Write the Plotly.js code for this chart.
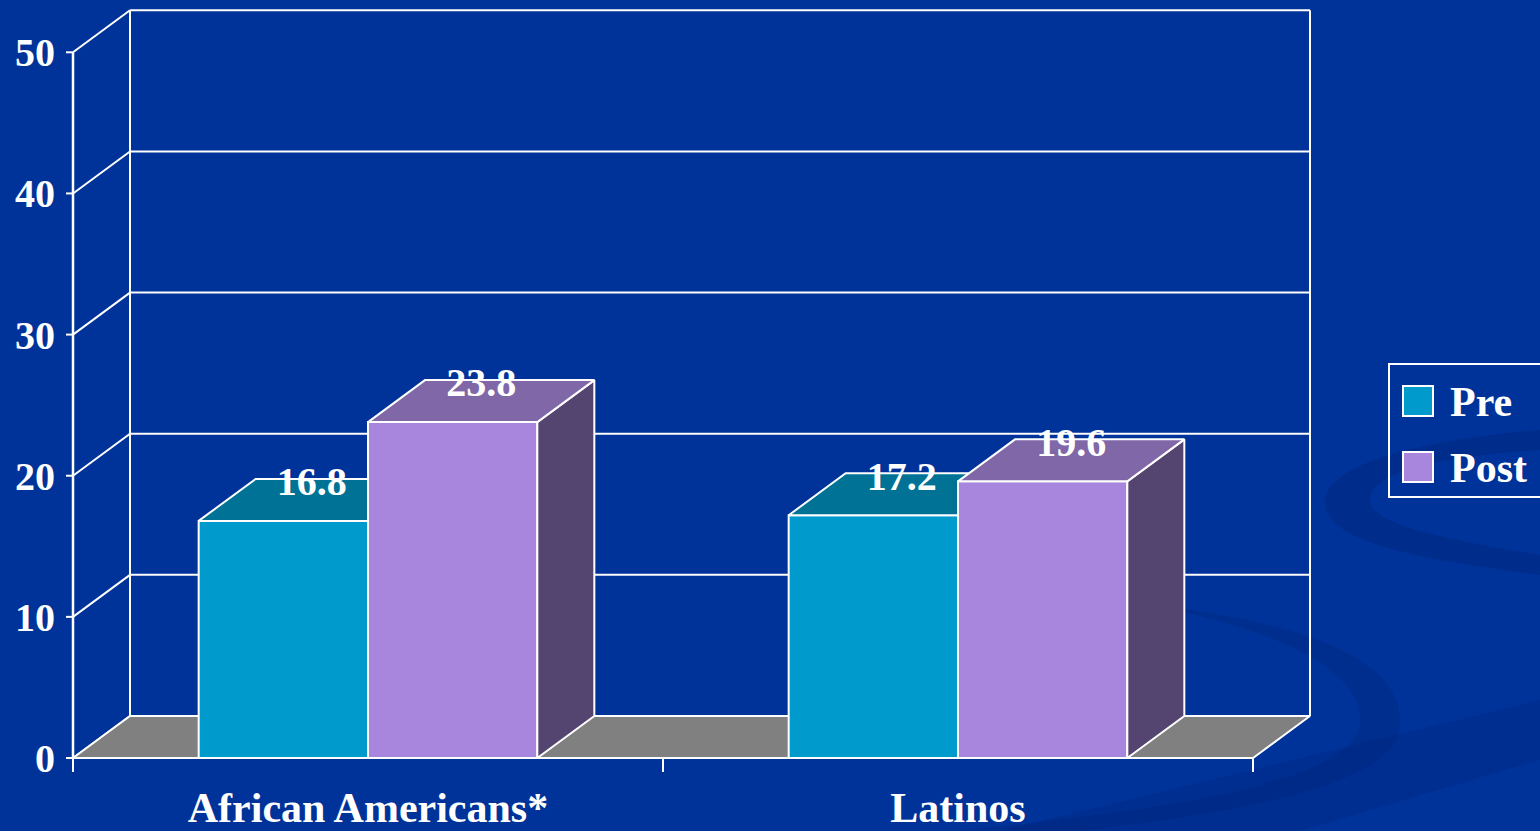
<!DOCTYPE html>
<html><head><meta charset="utf-8">
<script src="https://cdn.plot.ly/plotly-3.0.1.min.js"></script>
<style>html,body{margin:0;padding:0;background:#003399;overflow:hidden}#chart{width:1540px;height:831px}</style>
</head><body><div id="chart"></div>
<script>
// ---------- data ----------
const categories = ['African Americans*', 'Latinos'];
const seriesNames = ['Pre', 'Post'];
const preValues = [16.8, 17.2];
const postValues = [23.8, 19.6];
const yTickValues = [0, 10, 20, 30, 40, 50];
const yTickLabels = ['0', '10', '20', '30', '40', '50'];

// ---------- geometry / style ----------
const FONT = 'Liberation Serif, Times New Roman, serif';
const PLOT_L = 63, PLOT_R = 1313, PLOT_T = 7, PLOT_B = 774;
const ORIGIN_X = 73, ORIGIN_Y = 758;
const XPX = 590;                 // pixels per category slot
const YPX = (758 - 52.3) / 50;   // pixels per unit
const DX = 57 / XPX, DY = 42 / YPX; // 3D depth offset
const BAR_W = 0.287;
const nCat = categories.length;
const xRange = [(PLOT_L - ORIGIN_X) / XPX, (PLOT_R - ORIGIN_X) / XPX];
const yRange = [(ORIGIN_Y - PLOT_B) / YPX, (ORIGIN_Y - PLOT_T) / YPX];
const yMax = yTickValues[yTickValues.length - 1];
const centers = categories.map((c, i) => i + 0.5);

const COLORS = {
  pre:  {front: '#009ACD', top: '#007295', side: '#005570'},
  post: {front: '#A886DE', top: '#7F67A8', side: '#544470'},
  floor: '#808080', line: '#FFFFFF', bg: '#003399'
};

function faces(values, offset) {
  const top = {x: [], y: []}, side = {x: [], y: []};
  values.forEach((v, i) => {
    const x0 = centers[i] + offset, x1 = x0 + BAR_W;
    top.x.push(x0, x1, x1 + DX, x0 + DX, x0, null);
    top.y.push(v, v, v + DY, v + DY, v, null);
    side.x.push(x1, x1 + DX, x1 + DX, x1, x1, null);
    side.y.push(0, DY, v + DY, v, 0, null);
  });
  return {top, side};
}

function seriesTraces(values, offset, col, ax, name) {
  const f = faces(values, offset);
  const xa = 'x' + ax, ya = 'y' + ax;
  return [
    {type: 'bar', x: centers, y: values, width: BAR_W, offset: offset, name: name,
     marker: {color: col.front, line: {color: COLORS.line, width: 2}},
     xaxis: xa, yaxis: ya, hoverinfo: 'skip', showlegend: false},
    {type: 'scatter', mode: 'lines', x: f.side.x, y: f.side.y, fill: 'toself',
     fillcolor: col.side, line: {color: COLORS.line, width: 2}, xaxis: xa, yaxis: ya,
     hoverinfo: 'skip', showlegend: false},
    {type: 'scatter', mode: 'lines', x: f.top.x, y: f.top.y, fill: 'toself',
     fillcolor: col.top, line: {color: COLORS.line, width: 2}, xaxis: xa, yaxis: ya,
     hoverinfo: 'skip', showlegend: false}
  ];
}

function labelTrace(values, offset) {
  return {type: 'scatter', mode: 'text', xaxis: 'x3', yaxis: 'y3',
    x: values.map((v, i) => centers[i] + offset + BAR_W / 2 + DX / 2),
    y: values.map(v => v + DY - 0.45),
    text: values.map(v => v.toFixed(1)), textposition: 'middle center',
    textfont: {family: FONT, size: 40, color: '#FFFFFF', weight: 'bold'},
    cliponaxis: false, hoverinfo: 'skip', showlegend: false};
}

// floor
const floorTrace = {type: 'scatter', mode: 'lines',
  x: [0, nCat, nCat + DX, DX, 0], y: [0, 0, DY, DY, 0], fill: 'toself',
  fillcolor: COLORS.floor, line: {color: COLORS.line, width: 2},
  hoverinfo: 'skip', showlegend: false};

const traces = [floorTrace]
  .concat(seriesTraces(preValues, -BAR_W, COLORS.pre, 2, seriesNames[0]))
  .concat(seriesTraces(postValues, 0, COLORS.post, 3, seriesNames[1]))
  .concat([labelTrace(preValues, -BAR_W), labelTrace(postValues, 0)]);

// ---------- shapes: back wall, axis lines, ticks ----------
const wl = {color: COLORS.line, width: 2};
const shapes = [];
yTickValues.forEach(t => {
  shapes.push({type: 'line', layer: 'below', xref: 'x', yref: 'y', x0: DX, x1: nCat + DX, y0: t + DY, y1: t + DY, line: wl});
  shapes.push({type: 'line', layer: 'below', xref: 'x', yref: 'y', x0: 0, x1: DX, y0: t, y1: t + DY, line: wl});
  shapes.push({type: 'line', layer: 'below', xref: 'x', yref: 'y', x0: -7 / XPX, x1: 0, y0: t, y1: t, line: wl});
});
shapes.push({type: 'line', layer: 'below', xref: 'x', yref: 'y', x0: DX, x1: DX, y0: DY, y1: yMax + DY, line: wl});
shapes.push({type: 'line', layer: 'below', xref: 'x', yref: 'y', x0: nCat + DX, x1: nCat + DX, y0: DY, y1: yMax + DY, line: wl});
shapes.push({type: 'line', layer: 'below', xref: 'x', yref: 'y', x0: 0, x1: 0, y0: 0, y1: yMax, line: {color: COLORS.line, width: 2.5}});
for (let k = 0; k <= nCat; k++) {
  shapes.push({type: 'line', layer: 'below', xref: 'x', yref: 'y', x0: k, x1: k, y0: 0, y1: -14 / YPX, line: wl});
}

// background swirl (decorative, paper coords)
const W = 1540, H = 831;
function px(x) { return ((x - PLOT_L) / (PLOT_R - PLOT_L)).toFixed(4); }
function py(y) { return ((PLOT_B - y) / (PLOT_B - PLOT_T)).toFixed(4); }
function pathFrom(pts) {
  return pts.map(p => {
    if (typeof p === 'string') return p;
    return px(p[0]) + ',' + py(p[1]);
  }).join(' ');
}
shapes.unshift({type: 'path', layer: 'below', xref: 'paper', yref: 'paper', line: {width: 0},
  fillcolor: 'rgba(0,30,110,0.3)',
  path: pathFrom(['M', [1540, 430], 'C', [1420, 440], [1320, 465], [1325, 505], 'C', [1330, 545], [1430, 560], [1540, 575],
    'L', [1540, 555], 'C', [1450, 540], [1370, 525], [1370, 500], 'C', [1370, 470], [1450, 455], [1540, 450], 'Z'])});
shapes.unshift({type: 'path', layer: 'below', xref: 'paper', yref: 'paper', line: {width: 0},
  fillcolor: 'rgba(0,30,110,0.25)',
  path: pathFrom(['M', [1150, 605], 'C', [1280, 630], [1360, 670], [1360, 720], 'C', [1360, 780], [1180, 810], [950, 831],
    'L', [1080, 831], 'C', [1300, 805], [1400, 775], [1400, 720], 'C', [1400, 655], [1290, 620], [1150, 605], 'Z'])});
shapes.unshift({type: 'path', layer: 'below', xref: 'paper', yref: 'paper', line: {width: 0},
  fillcolor: 'rgba(0,30,110,0.2)',
  path: pathFrom(['M', [1000, 831], 'L', [1540, 700], 'L', [1540, 760], 'L', [1300, 831], 'Z'])});

// legend (manual, to match large swatches)
shapes.push({type: 'rect', xref: 'paper', yref: 'paper', x0: px(1389), x1: px(1550), y0: py(364), y1: py(497),
  line: {color: COLORS.line, width: 2}, fillcolor: 'rgba(0,0,0,0)'});
shapes.push({type: 'rect', xref: 'paper', yref: 'paper', x0: px(1403), x1: px(1433), y0: py(386), y1: py(416),
  line: {color: COLORS.line, width: 2}, fillcolor: COLORS.pre.front});
shapes.push({type: 'rect', xref: 'paper', yref: 'paper', x0: px(1403), x1: px(1433), y0: py(452), y1: py(482),
  line: {color: COLORS.line, width: 2}, fillcolor: COLORS.post.front});

const annotations = [
  {xref: 'paper', yref: 'paper', x: px(1448), y: py(402), xanchor: 'left', yanchor: 'middle', showarrow: false,
   text: seriesNames[0], font: {family: FONT, size: 42, color: '#FFFFFF', weight: 'bold'}},
  {xref: 'paper', yref: 'paper', x: px(1448), y: py(468), xanchor: 'left', yanchor: 'middle', showarrow: false,
   text: seriesNames[1], font: {family: FONT, size: 42, color: '#FFFFFF', weight: 'bold'}}
];

const hidden = {range: xRange, visible: false, fixedrange: true};
const layout = {
  width: W, height: H,
  margin: {l: PLOT_L, r: W - PLOT_R, t: PLOT_T, b: H - PLOT_B, pad: 0},
  paper_bgcolor: COLORS.bg, plot_bgcolor: 'rgba(0,0,0,0)',
  barmode: 'overlay', showlegend: false,
  xaxis: {range: xRange, tickvals: centers, ticktext: categories, ticks: '', showgrid: false,
    zeroline: false, showline: false, fixedrange: true, ticklabelstandoff: 5,
    tickfont: {family: FONT, size: 42, color: '#FFFFFF', weight: 'bold'}},
  yaxis: {range: yRange, tickvals: yTickValues, ticktext: yTickLabels, ticks: '', showgrid: false,
    zeroline: false, showline: false, fixedrange: true, ticklabelstandoff: 7,
    tickfont: {family: FONT, size: 40, color: '#FFFFFF', weight: 'bold'}},
  xaxis2: Object.assign({overlaying: 'x'}, hidden),
  yaxis2: {range: yRange, visible: false, fixedrange: true, overlaying: 'y'},
  xaxis3: Object.assign({overlaying: 'x'}, hidden),
  yaxis3: {range: yRange, visible: false, fixedrange: true, overlaying: 'y'},
  shapes: shapes, annotations: annotations
};

Plotly.newPlot('chart', traces, layout, {staticPlot: true, displayModeBar: false});
</script>
</body></html>
